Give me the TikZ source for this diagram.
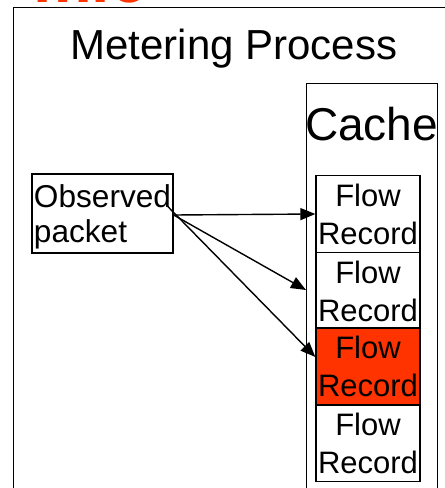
\documentclass[tikz,border=0pt]{standalone}
\usepackage{fontspec}
\setmainfont{Liberation Sans}
\usetikzlibrary{arrows.meta,calc}
\definecolor{flowred}{HTML}{FF3300}
\begin{document}
\begin{tikzpicture}[x=1pt,y=-1pt,
  box/.style={draw=black,line width=1.3pt,inner sep=0pt},
  rec/.style={box,minimum width=104pt,minimum height=77pt,align=center,
    font=\fontsize{31}{38}\selectfont},
  arr/.style={line width=1.4pt,-{Triangle[length=15pt,width=12pt]}}]
\useasboundingbox (0,0) rectangle (445,488);
% clipped title fragment
\node[anchor=base west,text=flowred,inner sep=0pt,
  font=\fontsize{66}{66}\bfseries\selectfont] (title) at (33,2.5) {mic};
% outer process box
\node[box,anchor=north west,minimum width=460pt,minimum height=520pt] (metering) at (13,7) {};
\node[anchor=base,inner sep=0pt,font=\fontsize{42}{42}\selectfont] (mplabel) at (234,59) {Metering Process};
% cache box
\node[box,anchor=north west,minimum width=131pt,minimum height=420pt] (cache) at (306,83) {};
\node[anchor=base,inner sep=0pt,font=\fontsize{46}{46}\selectfont] (cachelabel) at (371.5,140) {Cache};
% flow records
\node[rec] (rec1) at (368,214) {Flow\\Record};
\node[rec] (rec2) at (368,291) {Flow\\Record};
\node[rec,fill=flowred] (rec3) at (368,366.5) {Flow\\Record};
\node[rec] (rec4) at (368,443) {Flow\\Record};
% observed packet
\node[box,minimum width=141pt,minimum height=79pt,align=left,text depth=0pt,
  font=\fontsize{31.6}{35}\selectfont] (obs) at (102.5,213.5) {Observed\\packet};
% connectors
\coordinate (s1) at ($(obs.east)+(0,1.5)$);
\coordinate (s3) at ($(obs.north east)+(-6,33)$);
\coordinate (t2) at ($(cache.north west)+(0,207)$);
\coordinate (t3) at ($(rec3.west)+(0,-9.5)$);
\draw[arr] (s1) -- (rec1.west);
\draw[arr] (s1) -- (t2);
\draw[arr] (s3) -- (t3);
\end{tikzpicture}
\end{document}
